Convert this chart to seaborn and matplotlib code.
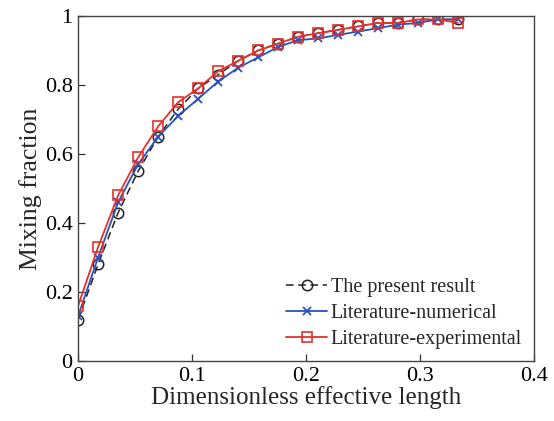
import matplotlib
matplotlib.use("Agg")
import matplotlib.pyplot as plt
import seaborn as sns
import pandas as pd

x_vals = [0.0, 0.0175, 0.0351, 0.0526, 0.0702, 0.0877, 0.1053, 0.1228, 0.1404, 0.1579,
          0.1754, 0.1930, 0.2105, 0.2281, 0.2456, 0.2632, 0.2807, 0.2982, 0.3158, 0.3333]
present = [0.12, 0.28, 0.43, 0.55, 0.65, 0.73, 0.79, 0.83, 0.87, 0.90,
           0.92, 0.94, 0.95, 0.96, 0.97, 0.98, 0.98, 0.99, 0.99, 0.99]
numerical = [0.13, 0.30, 0.46, 0.57, 0.65, 0.71, 0.76, 0.81, 0.85, 0.88,
             0.91, 0.93, 0.935, 0.945, 0.955, 0.965, 0.975, 0.98, 0.99, 0.99]
experimental = [0.16, 0.33, 0.48, 0.59, 0.68, 0.75, 0.79, 0.84, 0.87, 0.90,
                0.92, 0.94, 0.95, 0.96, 0.97, 0.98, 0.98, 0.99, 0.99, 0.98]
labels = ["The present result", "Literature-numerical", "Literature-experimental"]
xticks = [0, 0.1, 0.2, 0.3, 0.4]
yticks = [0, 0.2, 0.4, 0.6, 0.8, 1]

sns.set_theme(style="white")
plt.rcParams['font.family'] = ['Liberation Serif', 'DejaVu Serif']
plt.rcParams['mathtext.fontset'] = 'stix'

fig = plt.figure(figsize=(5.54, 4.21), dpi=100)
ax = fig.add_axes([0.141, 0.1425, 0.823, 0.8195])

df = pd.DataFrame({"x": x_vals, "present": present, "numerical": numerical,
                   "experimental": experimental})

black = "#222222"
blue = "#2a52be"
red = "#e8302a"

sns.lineplot(data=df, x="x", y="present", ax=ax, color=black, linestyle=(0, (5, 3)),
             linewidth=1.1, marker="o", markersize=7.5, markerfacecolor="none",
             markeredgecolor=black, markeredgewidth=1.1, label=labels[0])
sns.lineplot(data=df, x="x", y="numerical", ax=ax, color=blue, linestyle="-",
             linewidth=1.3, marker="x", markersize=5.5, markeredgewidth=1.3,
             markeredgecolor=blue, markerfacecolor=blue, label=labels[1])
sns.lineplot(data=df, x="x", y="experimental", ax=ax, color=red, linestyle="-",
             linewidth=1.3, marker="s", markersize=6.5, markerfacecolor="none",
             markeredgecolor=red, markeredgewidth=1.2, label=labels[2])

ax.set_xlim(0, 0.4)
ax.set_ylim(0, 1)
ax.set_xticks(xticks)
ax.set_yticks(yticks)
ax.set_xticklabels([f"{t:g}" for t in xticks])
ax.set_yticklabels([f"{t:g}" for t in yticks])
ax.tick_params(direction="in", length=5, width=0.9, colors="#333333",
               labelcolor="black", labelsize=16, bottom=True, left=True,
               top=False, right=False, pad=4)
for s in ax.spines.values():
    s.set_color("#444444")
    s.set_linewidth(1.0)

ax.set_xlabel("Dimensionless effective length", fontsize=18, labelpad=0)
ax.set_ylabel("Mixing fraction", fontsize=18.5, labelpad=2)

leg = ax.legend(loc="lower right", frameon=False, fontsize=14.5, handlelength=2.0,
                handletextpad=0.2, labelspacing=0.35, borderaxespad=0.2,
                bbox_to_anchor=(1.0, 0.0))

fig.savefig("out.png", dpi=100)
